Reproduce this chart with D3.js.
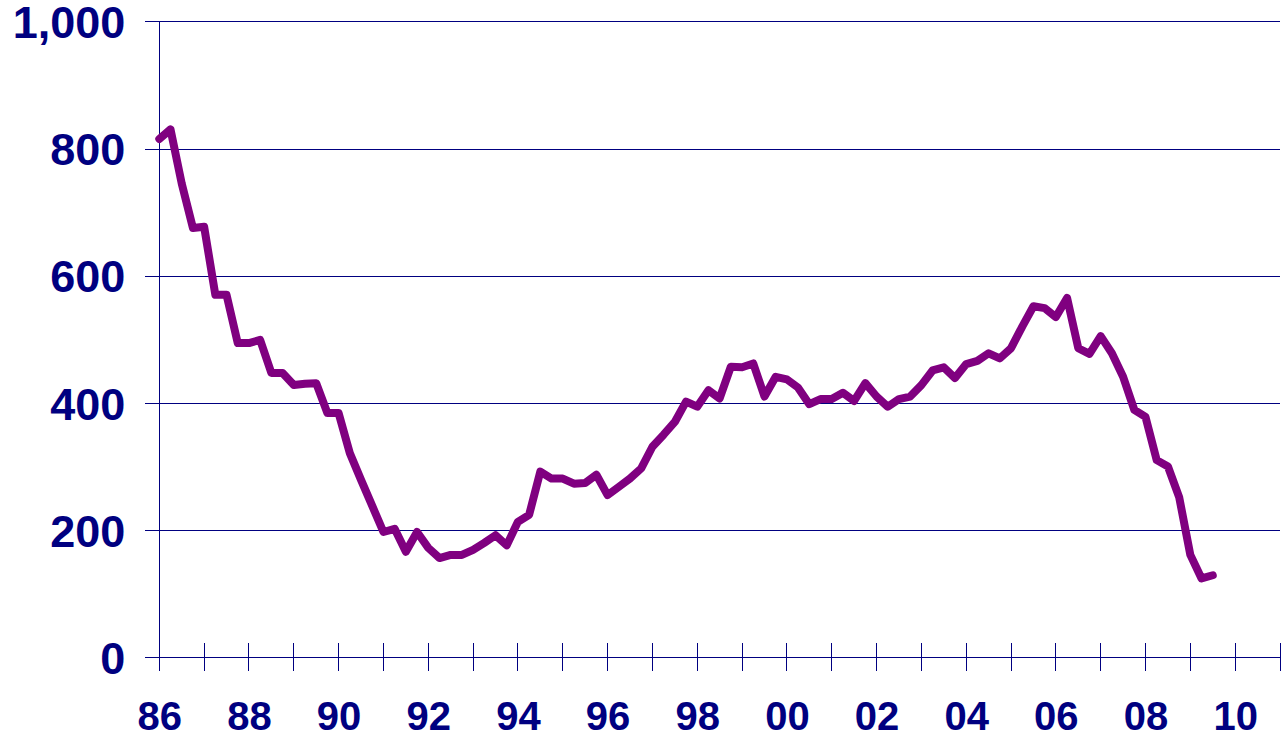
<!DOCTYPE html>
<html>
<head>
<meta charset="utf-8">
<script src="https://cdn.jsdelivr.net/npm/d3@7"></script>
<style>
  body { margin: 0; background: #fff; }
  svg { display: block; }
  .lbl text { font-family: "Liberation Sans", Arial, sans-serif; font-weight: bold; fill: #000080; }
  .grid line, .ticks line { stroke: #000080; stroke-width: 1; shape-rendering: crispEdges; }
</style>
</head>
<body>
<svg id="chart"></svg>
<script>
"use strict";
// quarterly values, 1986 Q1 .. 2009 Q3
const startYear = 1986;
const values = [
  815, 830, 745, 675,
  677, 570, 570, 494,
  494, 499, 447, 447,
  428, 430, 431, 384,
  384, 321, 279, 238,
  197, 202, 166, 197,
  172, 156, 161, 161,
  169, 180, 192, 176,
  213, 224, 292, 281,
  281, 273, 274, 287,
  255, 268, 281, 297,
  331, 350, 370, 402,
  394, 420, 407, 457,
  456, 462, 410, 441,
  437, 424, 398, 406,
  406, 416, 403, 431,
  410, 394, 406, 410,
  428, 451, 456, 439,
  461, 466, 478, 470,
  486, 520, 552, 549,
  535, 565, 486, 477,
  505, 478, 441, 389,
  378, 310, 300, 252,
  161, 124, 129
];
const yTicks = [0, 200, 400, 600, 800, 1000];
const xLabelYears = d3.range(1986, 2011, 2);
const xTickYears = d3.range(1986, 2012, 1);

const W = 1281, H = 737;
const margin = {top: 21.3, right: 1, bottom: 79.7, left: 159.3};

const svg = d3.select("#chart").attr("width", W).attr("height", H);

const x = d3.scaleLinear().domain([1986, 2011]).range([margin.left, W - margin.right]);
const y = d3.scaleLinear().domain([0, 1000]).range([H - margin.bottom, margin.top]);

const data = values.map((v, i) => ({t: startYear + i / 4, v: v}));

// horizontal gridlines (start 14px left of the axis)
svg.append("g")
    .attr("class", "grid")
    .attr("transform", `translate(${margin.left - 14},0)`)
    .call(d3.axisLeft(y).tickValues(yTicks).tickSize(-(W - margin.right - margin.left + 14)).tickFormat(""))
    .call(g => g.select(".domain").remove());

// y tick marks poking right of the axis
svg.append("g")
    .attr("class", "ticks")
    .attr("transform", `translate(${margin.left},0)`)
    .call(d3.axisLeft(y).tickValues(yTicks).tickSize(-14).tickFormat(""))
    .call(g => g.select(".domain").remove());

// vertical axis line
svg.append("line")
    .attr("x1", x(1986)).attr("x2", x(1986))
    .attr("y1", y(1000)).attr("y2", y(0) + 14)
    .attr("stroke", "#000080").attr("shape-rendering", "crispEdges");

// x tick marks crossing the baseline
const xt = svg.append("g").attr("class", "ticks");
xt.selectAll("line")
    .data(xTickYears)
  .enter().append("line")
    .attr("x1", d => x(d)).attr("x2", d => x(d))
    .attr("y1", y(0) - 14).attr("y2", y(0) + 14);

// y labels
svg.append("g")
    .attr("class", "lbl")
    .attr("transform", `translate(${margin.left},0)`)
    .call(d3.axisLeft(y).tickValues(yTicks).tickSize(0).tickPadding(34).tickFormat(d3.format(",")))
    .call(g => g.select(".domain").remove())
    .selectAll("text")
        .style("font-size", "45px")
        .attr("dy", "0.36em");

// x labels
svg.append("g")
    .attr("class", "lbl")
    .attr("transform", `translate(0,${y(0)})`)
    .call(d3.axisBottom(x).tickValues(xLabelYears).tickSize(0).tickPadding(44)
        .tickFormat(d => String(d % 100).padStart(2, "0")))
    .call(g => g.select(".domain").remove())
    .selectAll("text").style("font-size", "40px");

// the series
const line = d3.line().x(d => x(d.t)).y(d => y(d.v));
svg.append("path")
    .datum(data)
    .attr("fill", "none")
    .attr("stroke", "#800080")
    .attr("stroke-width", 8)
    .attr("stroke-linejoin", "round")
    .attr("stroke-linecap", "round")
    .attr("d", line);
</script>
</body>
</html>
